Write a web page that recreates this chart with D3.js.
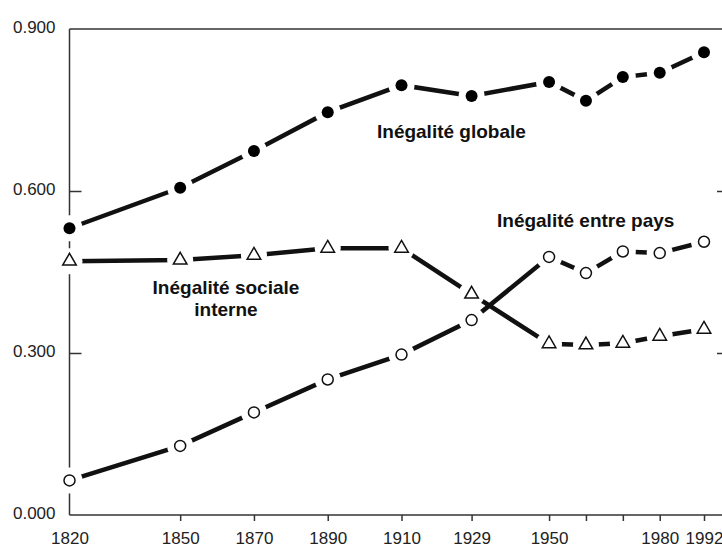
<!DOCTYPE html>
<html>
<head>
<meta charset="utf-8">
<script src="https://cdn.jsdelivr.net/npm/d3@7"></script>
<style>
  body { margin: 0; background: #fff; }
  .tick text { font-family: 'Liberation Sans', Arial, sans-serif; font-size: 17px; fill: #222; }
  .lbl { font-family: 'Liberation Sans', Arial, sans-serif; font-weight: bold; font-size: 19px; fill: #111; }
</style>
</head>
<body>
<div id="chart"></div>
<script>
'use strict';
// data
const years = [1820, 1850, 1870, 1890, 1910, 1929, 1950, 1960, 1970, 1980, 1992];
const globale = [0.531, 0.606, 0.674, 0.746, 0.796, 0.776, 0.802, 0.767, 0.811, 0.819, 0.857];
const entrePays = [0.064, 0.128, 0.190, 0.251, 0.297, 0.361, 0.478, 0.448, 0.488, 0.485, 0.506];
const interne = [0.470, 0.472, 0.481, 0.494, 0.494, 0.409, 0.317, 0.315, 0.318, 0.331, 0.344];
const yTicks = [0, 0.3, 0.6, 0.9];
const yTickLabels = ['0.000', '0.300', '0.600', '0.900'];
const xTicks = [1850, 1870, 1890, 1910, 1929, 1950, 1960, 1970, 1980, 1992];
const xLabels = [1820, 1850, 1870, 1890, 1910, 1929, 1950, 1980, 1992];

((d3) => {
    const width = 722;
    const height = 547;

    const x = d3.scaleLinear().domain([1820, 1992]).range([69.5, 704]);
    const y = d3.scaleLinear().domain([0, 0.9]).range([515, 29]);

    const svg = d3.select('#chart')
        .append('svg')
        .attr('width', width)
        .attr('height', height);

    const axisColor = '#333';

//frame lines
    svg.append('line')
        .attr('x1', x(1820)).attr('x2', width)
        .attr('y1', y(0.9)).attr('y2', y(0.9))
        .attr('stroke', axisColor).attr('stroke-width', 1.5);
    svg.append('line')
        .attr('x1', x(1820)).attr('x2', width)
        .attr('y1', y(0)).attr('y2', y(0))
        .attr('stroke', axisColor).attr('stroke-width', 1.5);
    svg.append('line')
        .attr('x1', x(1820)).attr('x2', x(1820))
        .attr('y1', y(0.9)).attr('y2', y(0))
        .attr('stroke', axisColor).attr('stroke-width', 1.5);

//left axis: inward ticks, labels outside
    const yAxis = svg.append('g')
        .attr('transform', 'translate(' + x(1820) + ',0)')
        .call(d3.axisRight(y).tickValues([0.3, 0.6]).tickSize(12).tickFormat(''));
    yAxis.select('.domain').remove();
    yAxis.selectAll('line').attr('stroke', axisColor).attr('stroke-width', 1.5);

    const yLab = svg.append('g')
        .attr('transform', 'translate(' + x(1820) + ',0)')
        .call(d3.axisLeft(y).tickValues(yTicks).tickSize(0).tickPadding(14)
            .tickFormat((d, i) => yTickLabels[i]));
    yLab.select('.domain').remove();
    yLab.selectAll('text').attr('dy', '3.5px');

//right side ticks
    const yRight = svg.append('g')
        .attr('transform', 'translate(' + width + ',0)')
        .call(d3.axisLeft(y).tickValues([0.3, 0.6]).tickSize(5).tickFormat(''));
    yRight.select('.domain').remove();
    yRight.selectAll('line').attr('stroke', axisColor).attr('stroke-width', 1.5);

//bottom axis
    const xAxis = svg.append('g')
        .attr('transform', 'translate(0,' + y(0) + ')')
        .call(d3.axisBottom(x).tickValues(xTicks).tickSize(6).tickFormat(''));
    xAxis.select('.domain').remove();
    xAxis.selectAll('line').attr('stroke', axisColor).attr('stroke-width', 1.5);

    const xLab = svg.append('g')
        .attr('transform', 'translate(0,' + y(0) + ')')
        .call(d3.axisBottom(x).tickValues(xLabels).tickSize(0).tickPadding(17)
            .tickFormat(d3.format('d')));
    xLab.select('.domain').remove();

//series
    const series = [
        { name: 'globale', values: globale, marker: 'dot' },
        { name: 'interne', values: interne, marker: 'tri' },
        { name: 'pays', values: entrePays, marker: 'ring' }
    ];

    const line = d3.line()
        .x((d) => x(d[0]))
        .y((d) => y(d[1]));

    series.forEach((s) => {
        const pts = years.map((yr, i) => [yr, s.values[i]]);
        svg.append('path')
            .datum(pts)
            .attr('d', line)
            .attr('fill', 'none')
            .attr('stroke', '#111')
            .attr('stroke-width', 4.5);
    });

    //white halos make the gaps round markers
    series.forEach((s) => {
        const pts = years.map((yr, i) => [yr, s.values[i]]);
        svg.append('g').selectAll('circle')
            .data(pts)
            .enter()
            .append('circle')
            .attr('cx', (d) => x(d[0]))
            .attr('cy', (d) => y(d[1]))
            .attr('r', 13)
            .attr('fill', '#fff');
    });

    const tri = d3.symbol().type(d3.symbolTriangle).size(80);

    series.forEach((s) => {
        const pts = years.map((yr, i) => [yr, s.values[i]]);
        const g = svg.append('g');
        if (s.marker === 'dot') {
            g.selectAll('circle').data(pts).enter().append('circle')
                .attr('cx', (d) => x(d[0]))
                .attr('cy', (d) => y(d[1]))
                .attr('r', 6)
                .attr('fill', '#000');
        } else if (s.marker === 'ring') {
            g.selectAll('circle').data(pts).enter().append('circle')
                .attr('cx', (d) => x(d[0]))
                .attr('cy', (d) => y(d[1]))
                .attr('r', 5.5)
                .attr('fill', '#fff')
                .attr('stroke', '#111')
                .attr('stroke-width', 1.5);
        } else {
            g.selectAll('path').data(pts).enter().append('path')
                .attr('d', tri)
                .attr('transform', (d) => 'translate(' + x(d[0]) + ',' + y(d[1]) + ')')
                .attr('fill', '#fff')
                .attr('stroke', '#111')
                .attr('stroke-width', 1.5);
        }
    });

//labels
    svg.append('text').attr('class', 'lbl')
        .attr('x', 377).attr('y', 138)
        .text('Inégalité globale');
    svg.append('text').attr('class', 'lbl')
        .attr('x', 497).attr('y', 227)
        .text('Inégalité entre pays');
    svg.append('text').attr('class', 'lbl')
        .attr('x', 226).attr('y', 294)
        .attr('text-anchor', 'middle')
        .text('Inégalité sociale');
    svg.append('text').attr('class', 'lbl')
        .attr('x', 226).attr('y', 316)
        .attr('text-anchor', 'middle')
        .text('interne');

})(window.d3);
</script>
</body>
</html>
